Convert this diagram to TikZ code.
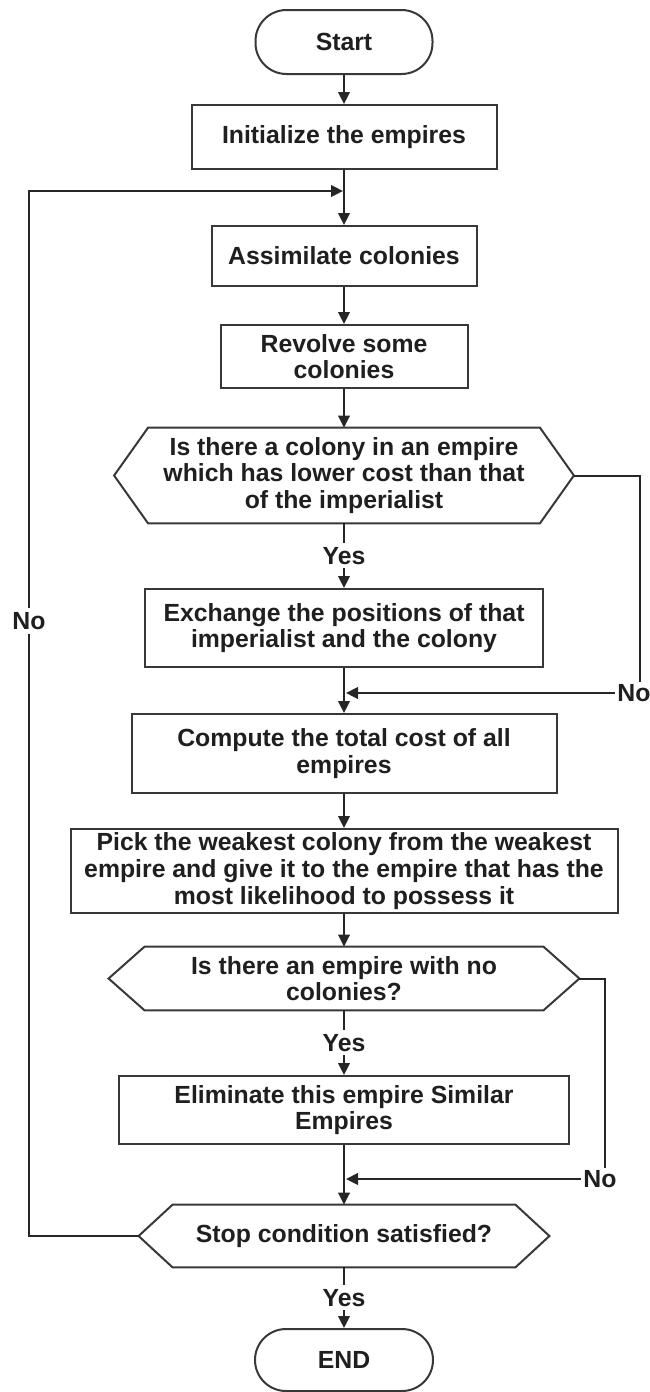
\documentclass[tikz,border=0pt]{standalone}
\usepackage{fontspec}
\setmainfont{Liberation Sans}
\usetikzlibrary{arrows.meta,calc}
\begin{document}
\begin{tikzpicture}[x=0.5pt,y=-0.5pt,
  every node/.style={font=\fontsize{12.4}{13.3}\selectfont\bfseries, text=black!88},
  box/.style={draw=black!78, line width=1pt, fill=white, align=center, inner sep=0pt},
  term/.style={box, rounded corners=15.5pt},
  hexbox/.style={align=center, inner sep=0pt},
  hexline/.style={draw=black!78, line width=1pt, line join=miter},
  lbl/.style={fill=white, inner sep=2pt},
  conn/.style={draw=black!85, line width=1pt},
  arr/.style={conn, -{Triangle[length=6pt,width=5.8pt]}},
]
\useasboundingbox (0,0) rectangle (649,1392);

% nodes
\node[term, minimum width=88.5pt, minimum height=32pt] (start) at (344,42) {Start};
\node[box, minimum width=152.5pt, minimum height=32pt] (init) at (344,137) {Initialize the empires};
\node[box, minimum width=132.5pt, minimum height=30pt] (assim) at (344,256) {Assimilate colonies};
\node[box, minimum width=123.5pt, minimum height=31.5pt] (rev) at (344,356.5) {Revolve some\\colonies};
\node[hexbox, minimum width=195.5pt, minimum height=47.5pt] (h1) at (344,475.5) {Is there a colony in an empire\\which has lower cost than that\\of the imperialist};
\node[box, minimum width=199pt, minimum height=39pt] (exch) at (344,628) {Exchange the positions of that\\imperialist and the colony};
\node[box, minimum width=212.5pt, minimum height=39.5pt] (comp) at (344,753.5) {Compute the total cost of all\\empires};
\node[box, minimum width=273.5pt, minimum height=42pt] (pick) at (344,871) {Pick the weakest colony from the weakest\\empire and give it to the empire that has the\\most likelihood to possess it};
\node[hexbox, minimum width=199pt, minimum height=31.5pt] (h2) at (344,978.5) {Is there an empire with no\\colonies?};
\node[box, minimum width=225pt, minimum height=34pt] (elim) at (344,1110) {Eliminate this empire Similar\\Empires};
\node[hexbox, minimum width=171pt, minimum height=31pt] (h3) at (344,1236) {Stop condition satisfied?};
\node[term, minimum width=89pt, minimum height=31pt] (end) at (344,1360) {END};

% hexagon outlines
\coordinate (h1r) at ($(h1.east)+(34,0)$);
\coordinate (h1l) at ($(h1.west)+(-34,0)$);
\draw[hexline] (h1.north west) -- (h1.north east) -- (h1r) -- (h1.south east) -- (h1.south west) -- (h1l) -- cycle;
\coordinate (h2r) at ($(h2.east)+(36,0)$);
\coordinate (h2l) at ($(h2.west)+(-36,0)$);
\draw[hexline] (h2.north west) -- (h2.north east) -- (h2r) -- (h2.south east) -- (h2.south west) -- (h2l) -- cycle;
\coordinate (h3r) at ($(h3.east)+(34,0)$);
\coordinate (h3l) at ($(h3.west)+(-34,0)$);
\draw[hexline] (h3.north west) -- (h3.north east) -- (h3r) -- (h3.south east) -- (h3.south west) -- (h3l) -- cycle;

% junction coordinates
\coordinate (j0) at (344,191);
\coordinate (lx) at (29,191);
\coordinate (j1) at (344,693);
\coordinate (c1) at (640,693);
\coordinate (j2) at (344,1179);
\coordinate (c2) at (605,1179);

% main flow
\draw[arr] (start) -- (init);
\draw[arr] (init) -- (assim);
\draw[arr] (assim) -- (rev);
\draw[arr] (rev) -- (h1.north);
\draw[arr] (h1.south) -- node[lbl] (y1) {Yes} (exch);
\draw[arr] (exch) -- (comp);
\draw[arr] (comp) -- (pick);
\draw[arr] (pick) -- (h2.north);
\draw[arr] (h2.south) -- node[lbl] (y2) {Yes} (elim);
\draw[arr] (elim) -- (h3.north);
\draw[arr] (h3.south) -- node[lbl] (y3) {Yes} (end);

% No branches
\draw[arr, shorten >=1pt] (h1r) -| (c1) -- (j1);
\node[lbl, inner sep=1pt] (no1) at (634,693) {No};
\draw[arr, shorten >=1pt] (h2r) -| (c2) -- (j2);
\node[lbl, inner sep=1pt] (no2) at (600,1179) {No};
\draw[arr, shorten >=0.5pt] (h3l) -| (lx) -- (j0);
\node[lbl] (no3) at (29,621) {No};
\end{tikzpicture}
\end{document}
